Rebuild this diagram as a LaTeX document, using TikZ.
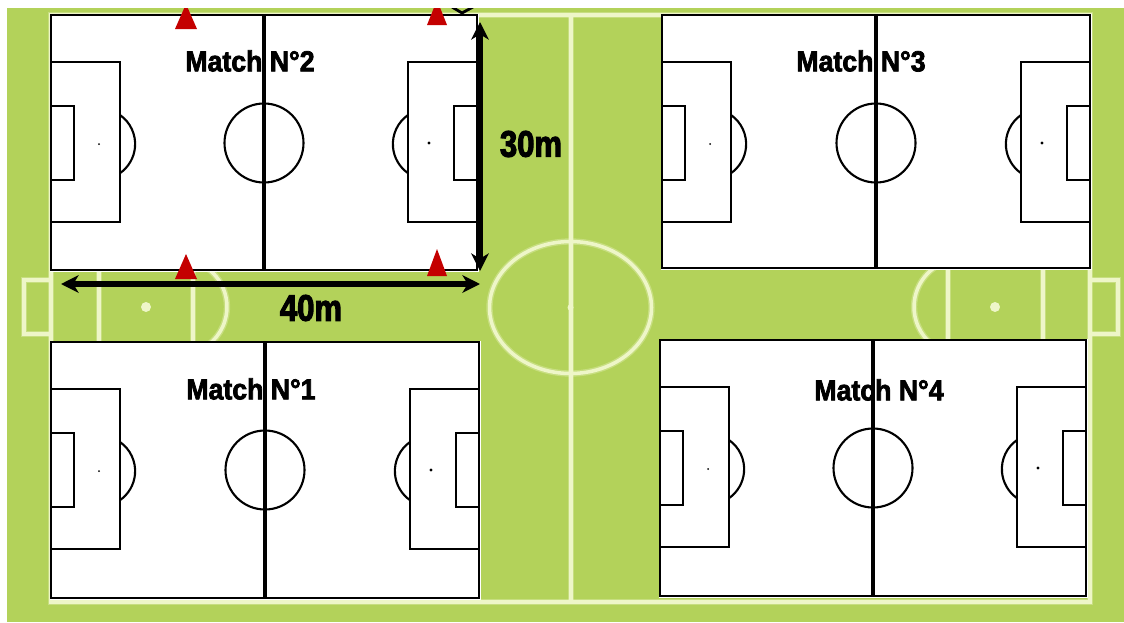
\documentclass[tikz,border=0pt]{standalone}
\usepackage{fontspec}
\usepackage{xcolor}
\usetikzlibrary{arrows.meta}
\newfontfamily\labelfont[FakeStretch=0.92,FakeBold=2.5]{Liberation Sans Bold}
\newfontfamily\sizefont[FakeStretch=0.84,FakeBold=3]{Liberation Sans Bold}
\definecolor{field-green}{HTML}{B3D25A}
\definecolor{field-line}{HTML}{EEF6C8}
\definecolor{cone-red}{HTML}{C40000}
\tikzset{
  fieldline/.style={draw=field-line, line width=2pt, preaction={draw=field-line, draw opacity=.35, line width=3.6pt}},
  pitchline/.style={draw=black, line width=1.2pt},
  halfline/.style={draw=black, line width=1.9pt},
  cone/.style={fill=cone-red, draw=none},
  sizearrow/.style={draw=black, line width=3pt, {Stealth[length=10pt,width=10pt,inset=3pt]}-{Stealth[length=10pt,width=10pt,inset=3pt]}},
  matchlabel/.style={font=\labelfont\fontsize{16.5}{18}\selectfont, inner sep=0pt},
  sizelabel/.style={font=\sizefont\fontsize{21}{23}\selectfont, inner sep=0pt}
}
% left, top, width, height
\newcommand{\smallpitch}[4]{
    \fill[white] (#1-1.5,#2-1.5) rectangle (#1+#3+1.5,#2+#4+1.5);
    \draw[pitchline] (#1,#2) rectangle (#1+#3,#2+#4);
    \draw[halfline] (#1+#3/2,#2) -- (#1+#3/2,#2+#4);
    \draw[pitchline] (#1+#3/2,#2+128) circle (39.5);
    \draw[pitchline] (#1,#2+47) rectangle (#1+69,#2+207);
    \draw[pitchline] (#1,#2+91) rectangle (#1+23,#2+165);
    \fill (#1+48,#2+129) circle (1);
    \draw[pitchline] (#1+69,#2+100) arc[start angle=-55, end angle=55, radius=35.5];
    \draw[pitchline] (#1+#3,#2+47) rectangle (#1+#3-69,#2+207);
    \draw[pitchline] (#1+#3,#2+91) rectangle (#1+#3-23,#2+165);
    \fill (#1+#3-48,#2+128) circle (1.6);
    \draw[pitchline] (#1+#3-69,#2+100) arc[start angle=235, end angle=125, radius=35.5];
}
\begin{document}
\begin{tikzpicture}[x=0.02cm, y=-0.02cm]
    \useasboundingbox (0,0) rectangle (1124,622);
    \fill[field-green] (7,8) rectangle (1124,622);

    % big field
    \draw[fieldline] (51,15) rectangle (1090,602);
    \draw[fieldline] (571,15) -- (571,602);
    \draw[fieldline] (570.5,307.5) ellipse [x radius=81, y radius=66];
    \fill[field-line] (570.5,307.5) circle (3);
    \draw[fieldline] (51,280) -- (24,280) -- (24,334) -- (51,334);
    \draw[fieldline] (99,240) -- (99,375);
    \draw[fieldline] (193,240) -- (193,375);
    \fill[field-line] (146,307) circle (5);
    \draw[fieldline] (193,261) arc[start angle=-73, end angle=73, radius=48];
    \draw[fieldline] (1090,280) -- (1118,280) -- (1118,334) -- (1090,334);
    \draw[fieldline] (1043,240) -- (1043,375);
    \draw[fieldline] (948,240) -- (948,375);
    \fill[field-line] (995,307) circle (5);
    \draw[fieldline] (948,261) arc[start angle=253, end angle=107, radius=48];

    % the four matches
    \smallpitch{51}{15}{426}{255}
    \smallpitch{662}{15}{428}{253}
    \smallpitch{51}{342}{428}{256}
    \smallpitch{660}{340}{426}{256}

    \node[matchlabel] (M2) at (250,61) {Match N°2};
    \node[matchlabel] (M3) at (861,61) {Match N°3};
    \node[matchlabel] (M1) at (251,389) {Match N°1};
    \node[matchlabel] (M4) at (879,390) {Match N°4};

    % cones
    \fill[cone] (186,4) -- (197,29) -- (175,29) -- cycle;
    \fill[cone] (437,0) -- (447,25) -- (427,25) -- cycle;
    \fill[cone] (186,254) -- (197,279) -- (175,279) -- cycle;
    \fill[cone] (437,249) -- (447,276) -- (427,276) -- cycle;

    % sizes
    \coordinate (W) at (61,284);
    \coordinate (E) at (480,284);
    \coordinate (T) at (480,22);
    \coordinate (B) at (480,271);
    \draw[sizearrow] (W) -- (E);
    \draw[sizearrow] (T) -- (B);
    \node[sizelabel] (LEN) at (311,308) {40m};
    \node[sizelabel] (WID) at (531,144) {30m};

    % what is left of a cut arrow
    \draw[black, line width=1.6pt] (452,7) -- (462,13) -- (473,7);
    \fill[white] (0,0) rectangle (1124,8);
    \fill[white] (0,0) rectangle (7,622);
\end{tikzpicture}
\end{document}
